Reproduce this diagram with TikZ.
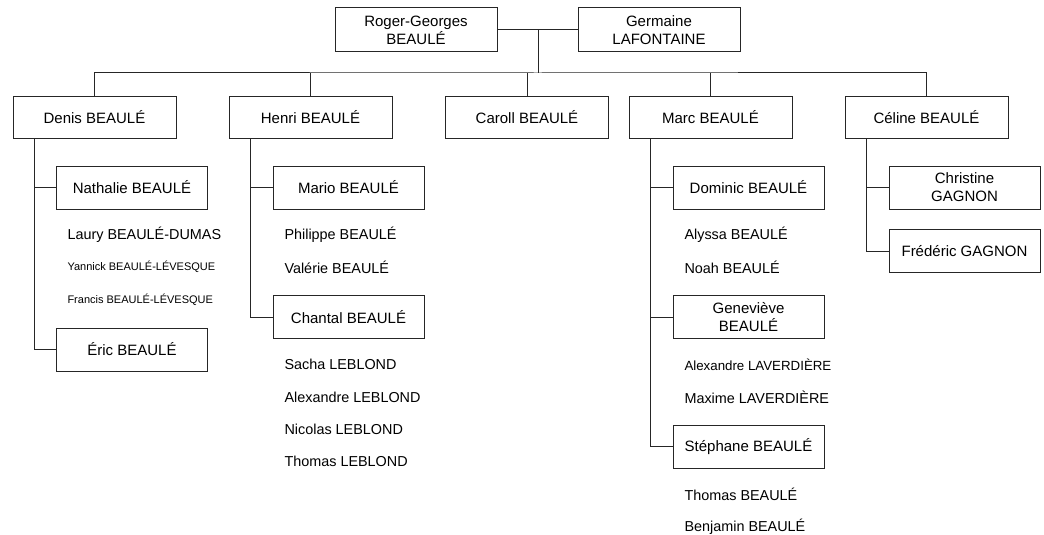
\documentclass[tikz,border=0pt]{standalone}
\usepackage{fontspec}
\setmainfont{Liberation Sans}
\begin{document}
\begin{tikzpicture}[x=1pt,y=-1pt,
  line width=1pt,
  conn/.style={draw=black!85},
  pbox/.style={draw=black!85,fill=white,minimum width=163pt,minimum height=42pt,inner sep=0pt,font=\fontsize{15}{18}\selectfont,align=center},
  cbox/.style={draw=black!85,fill=white,minimum width=151pt,minimum height=43pt,inner sep=0pt,font=\fontsize{15}{18}\selectfont,align=center},
  kid/.style={anchor=west,inner sep=0pt,font=\fontsize{14.4}{17}\selectfont},
  kidsmall/.style={anchor=west,inner sep=0pt,font=\fontsize{11}{13}\selectfont},
  kidmid/.style={anchor=west,inner sep=0pt,font=\fontsize{13.3}{16}\selectfont}
]
\useasboundingbox (0,0) rectangle (1044,535);
% top couple
\node[pbox,minimum width=162pt,minimum height=44pt] (rg) at (416,30) {Roger-Georges\\BEAULÉ};
\node[pbox,minimum width=162pt,minimum height=44pt] (gl) at (659,30) {Germaine\\LAFONTAINE};
\coordinate (m) at (538,30);
\coordinate (bus) at (538,73);
% generation 1
\node[pbox] (denis) at (94.5,117) {Denis BEAULÉ};
\node[pbox] (henri) at (310.5,117) {Henri BEAULÉ};
\node[pbox] (caroll) at (527,117) {Caroll BEAULÉ};
\node[pbox] (marc) at (710.5,117) {Marc BEAULÉ};
\node[pbox] (celine) at (926.5,117) {Céline BEAULÉ};
% generation 2
\node[cbox] (nathalie) at (132,187.5) {Nathalie BEAULÉ};
\node[cbox] (eric) at (132,349.5) {Éric BEAULÉ};
\node[cbox] (mario) at (348.5,187.5) {Mario BEAULÉ};
\node[cbox] (chantal) at (348.5,317) {Chantal BEAULÉ};
\node[cbox] (dominic) at (748.5,187.5) {Dominic BEAULÉ};
\node[cbox] (genevieve) at (748.5,317) {Geneviève\\BEAULÉ};
\node[cbox] (stephane) at (748.5,446.5) {Stéphane BEAULÉ};
\node[cbox] (christine) at (964.5,187.5) {Christine\\GAGNON};
\node[cbox] (frederic) at (964.5,251) {Frédéric GAGNON};
% generation 3 (text)
\node[kid] (laury) at (67,235) {Laury BEAULÉ-DUMAS};
\node[kidsmall] (yannick) at (67,267) {Yannick BEAULÉ-LÉVESQUE};
\node[kidsmall] (francis) at (67,300) {Francis BEAULÉ-LÉVESQUE};
\node[kid] (philippe) at (284,235) {Philippe BEAULÉ};
\node[kid] (valerie) at (284,267) {Valérie BEAULÉ};
\node[kid] (sacha) at (284,364) {Sacha LEBLOND};
\node[kid] (alexl) at (284,397) {Alexandre LEBLOND};
\node[kid] (nicolas) at (284,429) {Nicolas LEBLOND};
\node[kid] (thomasl) at (284,461) {Thomas LEBLOND};
\node[kid] (alyssa) at (684,235) {Alyssa BEAULÉ};
\node[kid] (noah) at (684,267) {Noah BEAULÉ};
\node[kidmid] (alexv) at (684,365) {Alexandre LAVERDIÈRE};
\node[kid] (maxime) at (684,397) {Maxime LAVERDIÈRE};
\node[kid] (thomasb) at (684,494) {Thomas BEAULÉ};
\node[kid] (benjamin) at (684,527) {Benjamin BEAULÉ};
% connectors
\draw[conn] (rg.east) -- (gl.west);
\draw[conn] (m) -- (bus);
\draw[conn] (denis.north) |- (bus) -| (celine.north);
\draw[conn] (henri.north) -- (henri.north |- bus);
\draw[conn] (caroll.north) -- (caroll.north |- bus);
\draw[conn] (marc.north) -- (marc.north |- bus);
% Denis
\draw[conn] ([xshift=22pt]denis.south west) |- (eric.west);
\draw[conn] (nathalie.west) -- ++(-21,0);
% Henri
\draw[conn] ([xshift=22pt]henri.south west) |- (chantal.west);
\draw[conn] (mario.west) -- ++(-22,0);
% Marc
\draw[conn] ([xshift=22pt]marc.south west) |- (stephane.west);
\draw[conn] (dominic.west) -- ++(-22,0);
\draw[conn] (genevieve.west) -- ++(-22,0);
% Celine
\draw[conn] ([xshift=22pt]celine.south west) |- (frederic.west);
\draw[conn] (christine.west) -- ++(-22,0);
\end{tikzpicture}
\end{document}
